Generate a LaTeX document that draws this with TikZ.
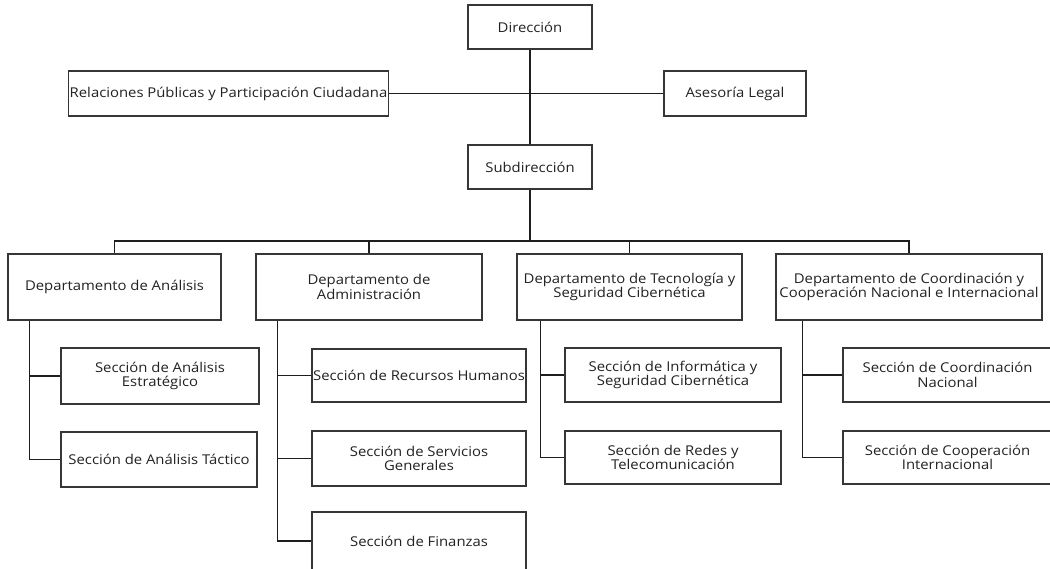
\documentclass[tikz,border=0pt]{standalone}
\usepackage{fontspec}
\setmainfont{Open Sans}[FakeStretch=1.1]
\usetikzlibrary{calc}
\definecolor{txt}{HTML}{222222}
\definecolor{edge}{HTML}{363636}
\definecolor{wire}{HTML}{1E1E1E}
\begin{document}
\begin{tikzpicture}[x=1pt,y=-1pt,
  box/.style={draw=edge, line width=1.3pt, rectangle, inner sep=1pt, align=center, text=txt,
    font=\fontsize{13.5}{14.5}\selectfont},
  wire/.style={draw=wire, line width=1.3pt}]
\clip (0,0) rectangle (1050,568);
\fill[white] (0,0) rectangle (1050,568);
% top
\node[box, minimum width=124pt, minimum height=44pt] (dir) at (530,27) {Dirección};
\node[box, minimum width=319pt, minimum height=45pt] (rel) at (228.5,93.5) {Relaciones Públicas y Participación Ciudadana};
\node[box, minimum width=142pt, minimum height=45pt] (ase) at (735,93.5) {Asesoría Legal};
\node[box, minimum width=124pt, minimum height=44pt] (sub) at (530,167) {Subdirección};
% departments
\node[box, minimum width=213pt, minimum height=66pt] (d1) at (114.5,287) {Departamento de Análisis};
\node[box, minimum width=226pt, minimum height=66pt] (d2) at (369,287) {Departamento de\\Administración};
\node[box, minimum width=225pt, minimum height=66pt] (d3) at (629.5,287) {Departamento de Tecnología y\\Seguridad Cibernética};
\node[box, minimum width=266pt, minimum height=66pt] (d4) at (909,287) {Departamento de Coordinación y\\Cooperación Nacional e Internacional};
% sections
\node[box, minimum width=198pt, minimum height=56pt] (s11) at (160,376) {Sección de Análisis\\Estratégico};
\node[box, minimum width=196pt, minimum height=55pt] (s12) at (159,459.5) {Sección de Análisis Táctico};
\node[box, minimum width=214pt, minimum height=53pt] (s21) at (419,375.5) {Sección de Recursos Humanos};
\node[box, minimum width=214pt, minimum height=55pt] (s22) at (419,458.5) {Sección de Servicios\\Generales};
\node[box, minimum width=214pt, minimum height=58pt] (s23) at (419,541) {Sección de Finanzas};
\node[box, minimum width=216pt, minimum height=54pt] (s31) at (673,375) {Sección de Informática y\\Seguridad Cibernética};
\node[box, minimum width=216pt, minimum height=53pt] (s32) at (673,457.5) {Sección de Redes y\\Telecomunicación};
\node[box, minimum width=209pt, minimum height=54pt] (s41) at (947.5,375) {Sección de Coordinación\\Nacional};
\node[box, minimum width=209pt, minimum height=53pt] (s42) at (947.5,457.5) {Sección de Cooperación\\Internacional};
% connectors top
\draw[wire] (dir.south) -- (sub.north);
\draw[wire] (rel.east) -- (ase.west);
\coordinate (bus) at (530,241);
\draw[wire] (sub.south) -- (bus);
\draw[wire] (d1.north) |- (bus) -| (d4.north);
\draw[wire] (d2.north) -- (d2.north |- bus);
\draw[wire] (d3.north) -- (d3.north |- bus);
% spines
\coordinate (p1) at ($(d1.south west)+(22,0)$);
\coordinate (p2) at ($(d2.south west)+(22,0)$);
\coordinate (p3) at ($(d3.south west)+(24,0)$);
\coordinate (p4) at ($(d4.south west)+(27,0)$);
\draw[wire] (p1) |- (s12.west);
\draw[wire] (s11.west) -- (p1 |- s11.west);
\draw[wire] (p2) |- (s23.west);
\draw[wire] (s21.west) -- (p2 |- s21.west);
\draw[wire] (s22.west) -- (p2 |- s22.west);
\draw[wire] (p3) |- (s32.west);
\draw[wire] (s31.west) -- (p3 |- s31.west);
\draw[wire] (p4) |- (s42.west);
\draw[wire] (s41.west) -- (p4 |- s41.west);
\end{tikzpicture}
\end{document}
